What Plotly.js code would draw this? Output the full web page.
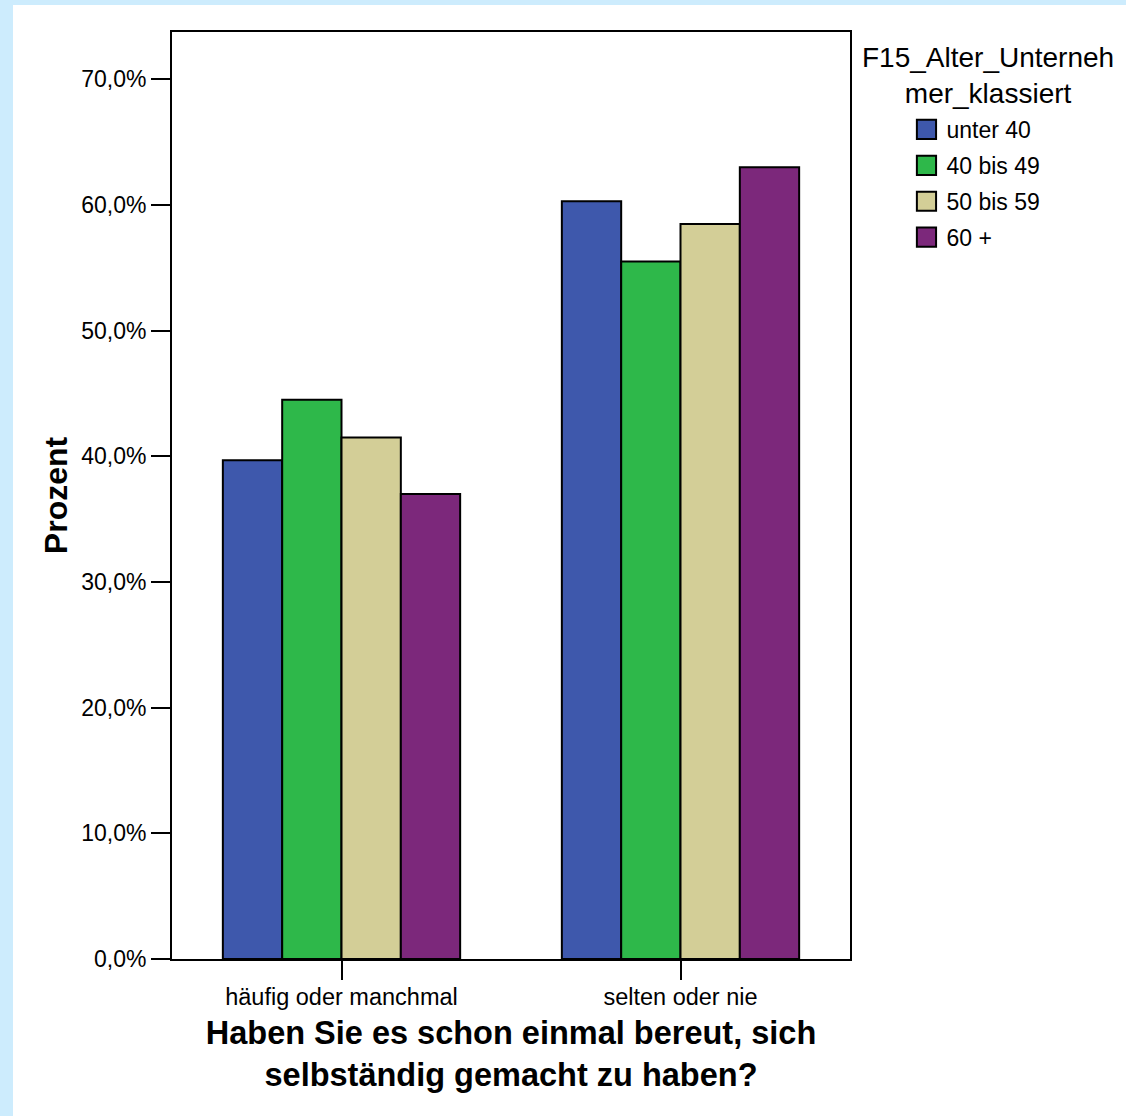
<!DOCTYPE html>
<html><head><meta charset="utf-8">
<script src="https://cdn.plot.ly/plotly-3.0.1.min.js"></script>
<style>
html,body{margin:0;padding:0;background:#cdecfd;width:1126px;height:1116px;overflow:hidden;}
#chart{position:absolute;left:13px;top:5px;width:1113px;height:1111px;background:#fff;}
</style></head>
<body><div id="chart"></div>
<script>
const categories = ["häufig oder manchmal", "selten oder nie"];
const seriesNames = ["unter 40", "40 bis 49", "50 bis 59", "60 +"];
const unter40 = [39.7, 60.3];
const bis49 = [44.5, 55.5];
const bis59 = [41.5, 58.5];
const ab60 = [37.0, 63.0];
const yTickVals = [0, 10, 20, 30, 40, 50, 60, 70];
const yTickLabels = ["0,0%", "10,0%", "20,0%", "30,0%", "40,0%", "50,0%", "60,0%", "70,0%"];
const legendTitle = "F15_Alter_Unterneh<br>mer_klassiert";
const colors = ["#3e58ac", "#2eb84a", "#d3ce97", "#7c287b"];

const values = [unter40, bis49, bis59, ab60];
const FONT = "Liberation Sans, Arial, sans-serif";
const traces = values.map((v, i) => ({
  type: "bar", x: categories, y: v, name: seriesNames[i],
  legendgroup: "g" + i,
  marker: {color: colors[i], line: {color: "#000", width: 2}},
  hoverinfo: "x+y+name"
}));

const layout = {
  width: 1113, height: 1111,
  margin: {l: 159, r: 276, t: 27, b: 157},
  paper_bgcolor: "#ffffff", plot_bgcolor: "#ffffff",
  font: {family: FONT, color: "#000", size: 21},
  barmode: "group", bargap: 0.3, bargroupgap: 0,
  showlegend: true,
  legend: {
    x: 1.0833, xanchor: "left", y: 0.918, yanchor: "top",
    traceorder: "grouped", tracegroupgap: 3,
    font: {size: 23},
    bgcolor: "rgba(0,0,0,0)"
  },
  annotations: [{
    text: legendTitle, xref: "paper", yref: "paper",
    x: 1.203, xanchor: "center", y: 0.9915, yanchor: "top",
    showarrow: false, align: "center", font: {size: 28}
  }],
  xaxis: {
    type: "category",
    showline: true, linecolor: "#000", linewidth: 2, mirror: true,
    ticks: "outside", ticklen: 19, tickwidth: 2, tickcolor: "#000",
    tickfont: {size: 23.5}, ticklabelstandoff: -3,
    showgrid: false, zeroline: false,
    title: {text: "<b>Haben Sie es schon einmal bereut, sich<br>selbständig gemacht zu haben?</b>", font: {size: 32.5}, standoff: 12}
  },
  yaxis: {
    range: [0, 73.77],
    tickmode: "array", tickvals: yTickVals, ticktext: yTickLabels,
    showline: true, linecolor: "#000", linewidth: 2, mirror: true,
    ticks: "outside", ticklen: 19, tickwidth: 2, tickcolor: "#000",
    tickfont: {size: 23},
    showgrid: false, zeroline: false,
    title: {text: "<b>Prozent</b>", font: {size: 32}, standoff: 4}
  }
};

Plotly.newPlot("chart", traces, layout, {displayModeBar: false}).then(function (gd) {
  gd.querySelectorAll(".legend .legendpoints path").forEach(function (p) {
    p.setAttribute("transform", "translate(20,0) scale(1.6)");
    p.style.vectorEffect = "non-scaling-stroke";
    p.style.strokeWidth = "2px";
    p.style.stroke = "#000";
  });
});
</script></body></html>
